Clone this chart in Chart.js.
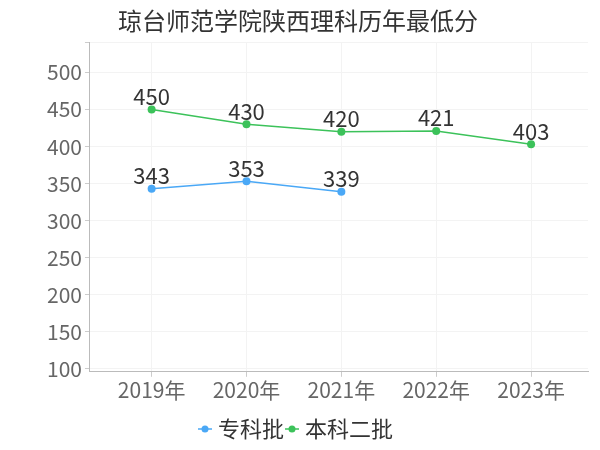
<!DOCTYPE html>
<html>
<head>
<meta charset="utf-8">
<script src="https://cdn.jsdelivr.net/npm/chart.js@4"></script>
<style>
  html, body { margin: 0; padding: 0; background: #fff; }
  #wrap { width: 600px; height: 450px; }
</style>
</head>
<body>
<div id="wrap"><canvas id="scoreChart" width="600" height="450"></canvas></div>
<script>
const TITLE = '琼台师范学院陕西理科历年最低分';
const years = ['2019年', '2020年', '2021年', '2022年', '2023年'];
const zhuankeScores = [343, 353, 339, null, null];
const benkeScores = [450, 430, 420, 421, 403];
const yTicks = [100, 150, 200, 250, 300, 350, 400, 450, 500];
const seriesNames = ['专科批', '本科二批'];
const SERIES_COLORS = ['#4aa8f6', '#3cc25a'];
const FONT = '"Noto Sans CJK SC", "Noto Sans", sans-serif';

function toPoints(values) {
  return values.map((v, i) => ({ x: i, y: v }));
}

function legendIcon(color) {
  const c = document.createElement('canvas');
  c.width = 14; c.height = 10;
  const g = c.getContext('2d');
  g.strokeStyle = color;
  g.lineWidth = 1.5;
  g.beginPath(); g.moveTo(0, 5); g.lineTo(14, 5); g.stroke();
  g.fillStyle = color;
  g.beginPath(); g.arc(7, 5, 3.5, 0, Math.PI * 2); g.fill();
  return c;
}

const valueLabels = {
  id: 'valueLabels',
  afterDatasetsDraw(chart) {
    const ctx = chart.ctx;
    ctx.save();
    ctx.font = '22px ' + FONT;
    ctx.fillStyle = '#333';
    ctx.textAlign = 'center';
    ctx.textBaseline = 'bottom';
    chart.data.datasets.forEach((ds, di) => {
      const meta = chart.getDatasetMeta(di);
      meta.data.forEach((pt, i) => {
        const v = ds.data[i].y;
        if (v === null || v === undefined) return;
        ctx.fillText(String(v), pt.x, pt.y - 2);
      });
    });
    ctx.restore();
  }
};

const ctx = document.getElementById('scoreChart').getContext('2d');
new Chart(ctx, {
  type: 'line',
  data: {
    datasets: [
      {
        label: seriesNames[0],
        data: toPoints(zhuankeScores),
        borderColor: SERIES_COLORS[0],
        backgroundColor: SERIES_COLORS[0],
        borderWidth: 1.5,
        pointRadius: 4,
        pointBorderWidth: 0,
        tension: 0,
        spanGaps: false
      },
      {
        label: seriesNames[1],
        data: toPoints(benkeScores),
        borderColor: SERIES_COLORS[1],
        backgroundColor: SERIES_COLORS[1],
        borderWidth: 1.5,
        pointRadius: 4,
        pointBorderWidth: 0,
        tension: 0
      }
    ]
  },
  options: {
    responsive: false,
    animation: false,
    layout: { padding: { left: 8, right: 12, top: 0, bottom: 0 } },
    plugins: {
      title: {
        display: true,
        text: TITLE,
        color: '#333',
        font: { family: FONT, size: 24, weight: 'normal' },
        padding: { top: 6, bottom: 8 }
      },
      legend: {
        position: 'bottom',
        labels: {
          usePointStyle: true,
          pointStyleWidth: 4,
          color: '#333',
          font: { family: FONT, size: 22 },
          padding: 6,
          generateLabels(chart) {
            return chart.data.datasets.map((ds, i) => ({
              text: ds.label,
              pointStyle: legendIcon(SERIES_COLORS[i]),
              fillStyle: SERIES_COLORS[i],
              strokeStyle: SERIES_COLORS[i],
              fontColor: '#333',
              lineWidth: 0,
              hidden: false,
              datasetIndex: i
            }));
          }
        }
      },
      tooltip: { enabled: false }
    },
    scales: {
      x: {
        type: 'linear',
        min: -0.65,
        max: 4.6,
        afterBuildTicks(scale) {
          scale.ticks = years.map((_, i) => ({ value: i }));
        },
        afterFit(scale) {
          scale.height += 8;
        },
        grid: { color: '#f3f3f3', drawTicks: true, tickLength: 5, tickColor: '#ccc' },
        border: { color: '#bbb' },
        ticks: {
          color: '#666',
          font: { family: FONT, size: 21 },
          padding: 1,
          callback: v => years[v]
        }
      },
      y: {
        min: 96,
        max: 540,
        afterBuildTicks(scale) {
          scale.ticks = yTicks.concat([540]).map(v => ({ value: v }));
        },
        afterFit(scale) {
          scale.width += 36;
        },
        grid: { color: '#f3f3f3', tickLength: 5, tickColor: '#ccc' },
        border: { color: '#bbb' },
        ticks: {
          color: '#666',
          font: { family: FONT, size: 21 },
          padding: 3,
          callback: v => (yTicks.includes(v) ? String(v) : '')
        }
      }
    }
  },
  plugins: [valueLabels]
});
</script>
</body>
</html>
